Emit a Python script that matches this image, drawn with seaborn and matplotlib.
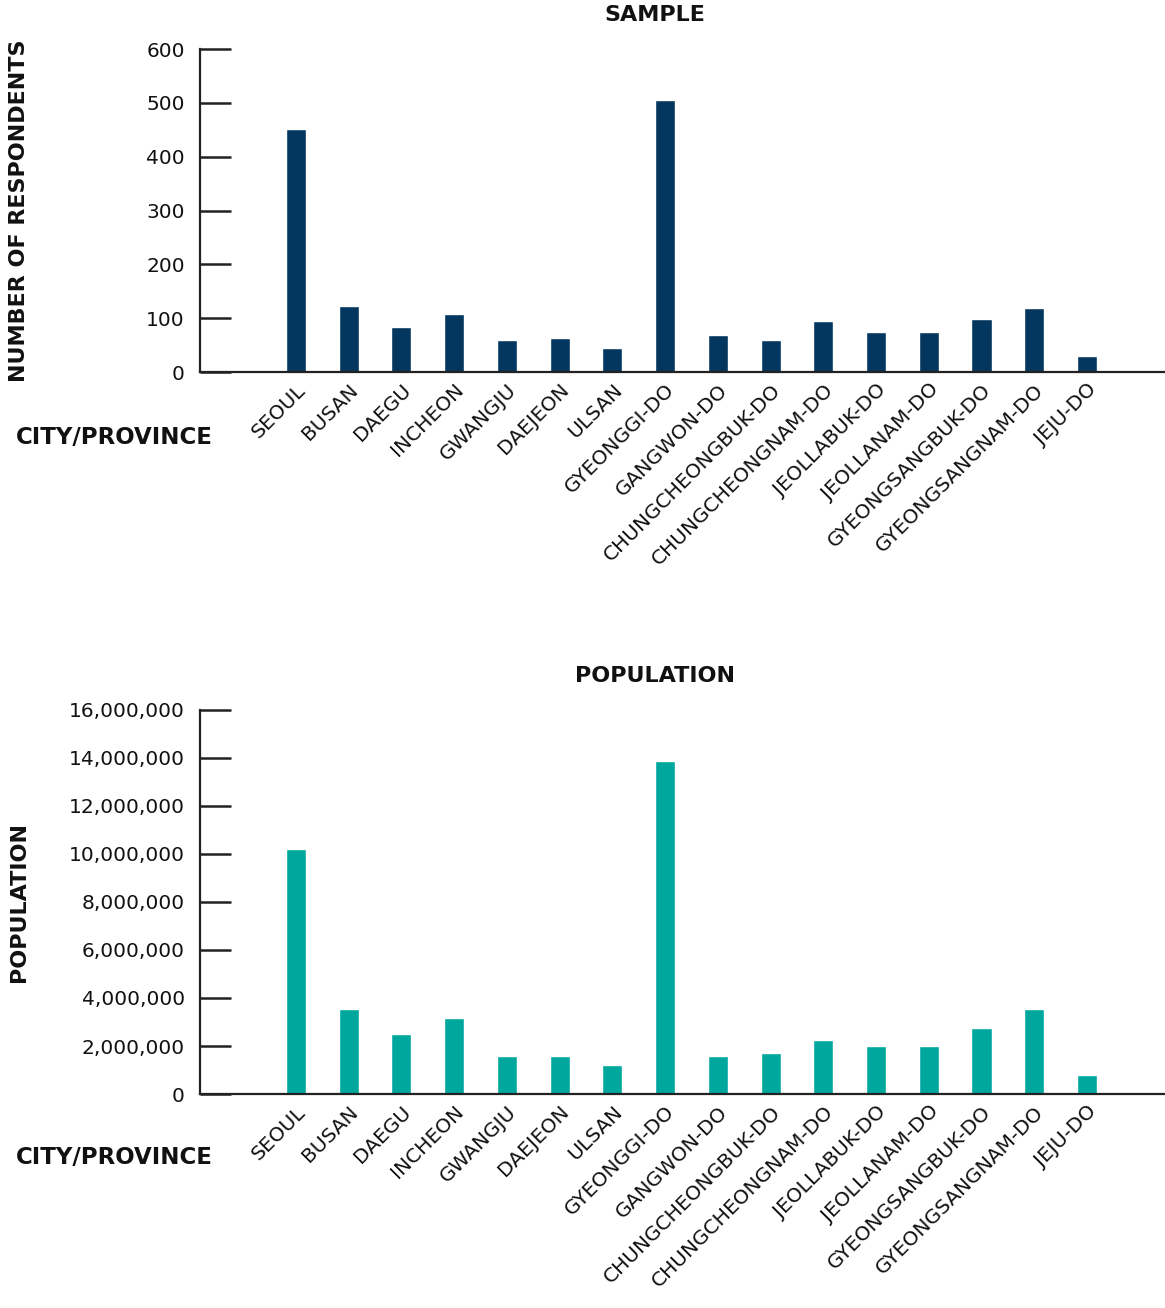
import matplotlib
matplotlib.use('Agg')
import matplotlib.pyplot as plt
import seaborn as sns
import pandas as pd
from matplotlib.ticker import FuncFormatter

# 지역 / region names
regions = ['SEOUL', 'BUSAN', 'DAEGU', 'INCHEON', 'GWANGJU', 'DAEJEON', 'ULSAN',
           'GYEONGGI-DO', 'GANGWON-DO', 'CHUNGCHEONGBUK-DO', 'CHUNGCHEONGNAM-DO',
           'JEOLLABUK-DO', 'JEOLLANAM-DO', 'GYEONGSANGBUK-DO', 'GYEONGSANGNAM-DO',
           'JEJU-DO']

# number of respondents
sample = [452, 122, 83, 107, 59, 64, 44, 506, 68, 59, 94, 74, 74, 98, 118, 29]

# population
population = [10190000, 3550000, 2510000, 3180000, 1595000, 1595000, 1220000,
              13870000, 1595000, 1720000, 2260000, 2010000, 2010000, 2760000,
              3550000, 800000]

sample_ticks = [0, 100, 200, 300, 400, 500, 600]
pop_ticks = [0, 2000000, 4000000, 6000000, 8000000, 10000000, 12000000, 14000000, 16000000]

sns.set_style('white')
plt.rcParams['font.family'] = ['DejaVu Sans']

df = pd.DataFrame({'region': regions, 'sample': sample, 'population': population})

fig = plt.figure(figsize=(11.65, 13.08), dpi=100)
ax1 = fig.add_axes([200 / 1165, 1 - 372 / 1308, 965 / 1165, 323 / 1308])
ax2 = fig.add_axes([200 / 1165, 1 - 1094 / 1308, 965 / 1165, 384 / 1308])


def style_axis(ax, col, ticks, color, title, ylabel, fmt=None):
    sns.barplot(data=df, x='region', y=col, color=color, width=0.38,
                saturation=1, ax=ax, order=regions)
    ax.set_xlim(-1.82, len(regions) + 0.48)
    ax.set_ylim(ticks[0], ticks[-1])
    ax.set_yticks(ticks)
    if fmt:
        ax.yaxis.set_major_formatter(FuncFormatter(fmt))
    for s in ['top', 'right']:
        ax.spines[s].set_visible(False)
    for s in ['left', 'bottom']:
        ax.spines[s].set_color('#222222')
        ax.spines[s].set_linewidth(1.6)
    ax.tick_params(axis='y', left=True, direction='in', length=22, width=1.8,
                   color='#222222', labelsize=14.5, pad=11, labelcolor='#111111')
    ax.tick_params(axis='x', bottom=False, length=0, labelsize=14.5, pad=6,
                   labelcolor='#111111')
    plt.setp(ax.get_xticklabels(), rotation=45, ha='right', rotation_mode='anchor')
    ax.set_xlabel('')
    ax.set_ylabel(ylabel, fontsize=16, fontweight='bold', labelpad=0, color='#111111')
    ax.set_title(title, fontsize=16, fontweight='bold', pad=20, x=0.4715,
                 color='#111111')


style_axis(ax1, 'sample', sample_ticks, '#03375f', 'SAMPLE', 'NUMBER OF RESPONDENTS')
style_axis(ax2, 'population', pop_ticks, '#00a79d', 'POPULATION', 'POPULATION',
           fmt=lambda v, p: f'{int(v):,}')

ax1.yaxis.set_label_coords(-171 / 965, 0.5)
ax2.yaxis.set_label_coords(-171 / 965, 0.5)

fig.text(16 / 1165, 1 - 438 / 1308, 'CITY/PROVINCE', fontsize=16.5, fontweight='bold',
         ha='left', va='center', color='#111111')
fig.text(16 / 1165, 1 - 1157 / 1308, 'CITY/PROVINCE', fontsize=16.5, fontweight='bold',
         ha='left', va='center', color='#111111')

fig.savefig('out.png', dpi=100)
